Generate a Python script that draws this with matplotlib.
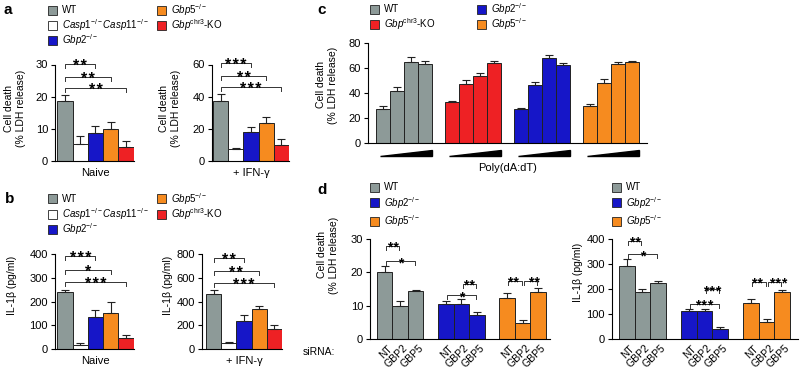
import numpy as np
import matplotlib.pyplot as plt
from matplotlib.patches import Rectangle
import matplotlib.transforms as mtransforms

plt.rcParams['font.family'] = ['Liberation Sans', 'DejaVu Sans']
plt.rcParams['mathtext.fontset'] = 'custom'
plt.rcParams['mathtext.rm'] = 'Liberation Sans'
plt.rcParams['mathtext.it'] = 'Liberation Sans:italic'
plt.rcParams['mathtext.bf'] = 'Liberation Sans:bold'

# colours
GRAY = '#8d9a98'
WHITE = '#ffffff'
BLUE = '#1616c8'
ORANGE = '#f68b1f'
RED = '#ee2124'
EDGE = '#222222'

# legend labels
lbl_wt = 'WT'
lbl_casp = r'$\mathit{Casp1}^{-/-}\mathit{Casp11}^{-/-}$'
lbl_gbp2 = r'$\mathit{Gbp2}^{-/-}$'
lbl_gbp5 = r'$\mathit{Gbp5}^{-/-}$'
lbl_chr3 = r'$\mathit{Gbp}^{\mathrm{chr3}}$-KO'

# a: cell death, 5 genotypes (WT, Casp1/11, Gbp2, Gbp5, Gbpchr3)
a_naive = [18.8, 5.3, 8.7, 10.1, 4.4]
a_naive_err = [1.8, 2.6, 2.3, 2.1, 1.8]
a_ifn = [37.5, 7.5, 17.8, 23.6, 10.2]
a_ifn_err = [4.2, 0.8, 3.2, 3.5, 3.2]
a_naive_sig = [(0, 2, 30.3, '**'), (0, 3, 26.2, '**'), (0, 4, 22.8, '**')]
a_ifn_sig = [(0, 2, 61, '***'), (0, 3, 53, '**'), (0, 4, 46, '***')]

# b: IL-1beta
b_naive = [242, 15, 135, 150, 47]
b_naive_err = [5, 10, 30, 50, 10]
b_ifn = [462, 52, 235, 335, 165]
b_ifn_err = [35, 8, 50, 30, 40]
b_naive_sig = [(0, 2, 392, '***'), (0, 3, 333, '*'), (0, 4, 282, '***')]
b_ifn_sig = [(0, 2, 766, '**'), (0, 3, 657, '**'), (0, 4, 556, '***')]

# c: poly(dA:dT) dose response
c_wt = [27, 42, 65, 63.5]
c_wt_err = [2.5, 3, 3.5, 2.5]
c_chr3 = [32.5, 47.5, 54, 64]
c_chr3_err = [1.5, 3, 2, 1.5]
c_gbp2 = [27.2, 46.4, 68.3, 62.4]
c_gbp2_err = [1, 2.5, 2, 2]
c_gbp5 = [29.8, 48, 63.5, 65]
c_gbp5_err = [1.5, 3.5, 1.5, 0.8]

# d: siRNA
d_sirna = ['NT', 'GBP2', 'GBP5']
d_ldh_wt = [20, 10, 14.4]
d_ldh_wt_err = [1.9, 1.3, 0.3]
d_ldh_gbp2 = [10.5, 10.5, 7.2]
d_ldh_gbp2_err = [0.8, 1.6, 0.8]
d_ldh_gbp5 = [12.3, 4.7, 14.1]
d_ldh_gbp5_err = [1.5, 1.0, 1.1]
d_ldh_sig = [(0, 0, 1, 28, '**'), (0, 0, 2, 23.5, '*'),
             (1, 1, 2, 16.5, '**'), (1, 0, 2, 13.1, '*'),
             (2, 0, 1, 17.4, '**'), (2, 1, 2, 17.4, '**')]
d_il_wt = [293, 187, 223]
d_il_wt_err = [26, 14, 9]
d_il_gbp2 = [112, 112, 40]
d_il_gbp2_err = [8, 7, 9]
d_il_gbp5 = [145, 67, 188]
d_il_gbp5_err = [16, 12, 8]
d_il_sig = [(0, 0, 1, 393, '**'), (0, 0, 2, 339, '*'),
            (1, 1, 2, 199, '***'), (1, 0, 2, 140, '***'),
            (2, 0, 1, 229, '**'), (2, 1, 2, 229, '***')]

W, H = 800, 372
fig = plt.figure(figsize=(W / 100, H / 100), dpi=100)


def px_axes(left, right, top, bottom):
    return fig.add_axes([left / W, 1 - bottom / H, (right - left) / W, (bottom - top) / H])


def style(ax, ymax, step, xlim):
    for s in ['top', 'right']:
        ax.spines[s].set_visible(False)
    for s in ['left', 'bottom']:
        ax.spines[s].set_linewidth(0.8)
    ax.set_ylim(0, ymax)
    ax.set_yticks(np.arange(0, ymax + step / 2, step))
    ax.set_xlim(*xlim)
    ax.tick_params(axis='y', labelsize=8, length=3, width=0.8, pad=2)
    ax.tick_params(axis='x', length=0)
    ax.set_xticks([])


def bars(ax, xs, vals, errs, colors):
    ax.bar(xs, vals, width=1.0, color=colors, edgecolor=EDGE, linewidth=0.7, zorder=2)
    ax.errorbar(xs, vals, yerr=[np.zeros(len(vals)), errs], fmt='none',
                ecolor=EDGE, elinewidth=0.8, capsize=3, capthick=0.8, zorder=3)


def bracket(ax, x1, x2, y, stars, drop, size=12, shrink=0.0, dx=0.0):
    x1, x2 = x1 + shrink, x2 - shrink
    ax.plot([x1, x1, x2, x2], [y - drop, y, y, y - drop], color='#333333',
            lw=0.7, clip_on=False)
    ax.annotate('\u200a'.join(stars), xy=((x1 + x2) / 2, y), xytext=(dx, -size * 0.46),
                textcoords='offset points', ha='center', va='baseline',
                fontsize=size, fontweight='bold', annotation_clip=False)


def legend_item(x, y, color, label):
    fig.add_artist(Rectangle((x / W, 1 - (y + 4.5) / H), 9 / W, 9 / H,
                             transform=fig.transFigure, fc=color, ec=EDGE, lw=0.6))
    fig.text((x + 14) / W, 1 - y / H, label, va='center', ha='left', fontsize=7)


def ftext(x, y, s, **kw):
    fig.text(x / W, 1 - y / H, s, **kw)


five_colors = [GRAY, WHITE, BLUE, ORANGE, RED]
xs5 = np.arange(5)

# ---- panel a ----
ftext(4, 10, 'a', fontsize=11, fontweight='bold', va='center')
legend_item(48, 10, GRAY, lbl_wt)
legend_item(48, 25, WHITE, lbl_casp)
legend_item(48, 40, BLUE, lbl_gbp2)
legend_item(157, 10, ORANGE, lbl_gbp5)
legend_item(157, 25, RED, lbl_chr3)

panels_5 = [
    (55, 133.5, 64.5, 161, a_naive, a_naive_err, a_naive_sig, 30, 10, -0.66, 'Naive'),
    (212, 289, 64.5, 161, a_ifn, a_ifn_err, a_ifn_sig, 60, 20, -0.57, '+ IFN-γ'),
    (55, 133.5, 254, 349, b_naive, b_naive_err, b_naive_sig, 400, 100, -0.66, 'Naive'),
    (202, 282, 254, 349, b_ifn, b_ifn_err, b_ifn_sig, 800, 200, -0.76, '+ IFN-γ'),
]
for left, right, top, bottom, vals, errs, sig, ymax, step, x0, name in panels_5:
    ax = px_axes(left, right, top, bottom)
    style(ax, ymax, step, (x0, 4.5))
    bars(ax, xs5, vals, errs, five_colors)
    for i, j, y, s in sig:
        bracket(ax, i, j, y, s, ymax * 0.045, size=11.5)
    ax.text(2, -0.07, name, transform=mtransforms.blended_transform_factory(ax.transData, ax.transAxes),
            ha='center', va='top', fontsize=8)

ftext(15, 108, 'Cell death\n(% LDH release)', rotation=90, ha='center', va='center', fontsize=7.5)
ftext(170, 108, 'Cell death\n(% LDH release)', rotation=90, ha='center', va='center', fontsize=7.5)

# ---- panel b ----
ftext(5, 199, 'b', fontsize=11, fontweight='bold', va='center')
legend_item(48, 199, GRAY, lbl_wt)
legend_item(48, 214.5, WHITE, lbl_casp)
legend_item(48, 229, BLUE, lbl_gbp2)
legend_item(157, 199, ORANGE, lbl_gbp5)
legend_item(157, 214.5, RED, lbl_chr3)
ftext(12, 285, 'IL-1β (pg/ml)', rotation=90, ha='center', va='center', fontsize=7.5)
ftext(168, 285, 'IL-1β (pg/ml)', rotation=90, ha='center', va='center', fontsize=7.5)

# ---- panel c ----
ftext(317, 10, 'c', fontsize=11, fontweight='bold', va='center')
legend_item(370, 9, GRAY, lbl_wt)
legend_item(370, 24, RED, lbl_chr3)
legend_item(477, 9, BLUE, lbl_gbp2)
legend_item(477, 24, ORANGE, lbl_gbp5)

axc = px_axes(368, 647, 43, 143)
style(axc, 80, 20, (-1.07, 18.86))
c_step = 4.93
c_groups = [(c_wt, c_wt_err, GRAY), (c_chr3, c_chr3_err, RED),
            (c_gbp2, c_gbp2_err, BLUE), (c_gbp5, c_gbp5_err, ORANGE)]
trc = mtransforms.blended_transform_factory(axc.transData, axc.transAxes)
for g, (vals, errs, col) in enumerate(c_groups):
    xs = g * c_step + np.arange(len(vals))
    bars(axc, xs, vals, errs, col)
    xl, xr = xs[0] - 0.2, xs[-1] + 0.5
    axc.fill([xl, xr, xr], [-0.13, -0.13, -0.07], color='black', transform=trc, clip_on=False)
ftext(327, 85, 'Cell death\n(% LDH release)', rotation=90, ha='center', va='center', fontsize=7.5)
ftext(508, 168, 'Poly(dA:dT)', ha='center', va='center', fontsize=8)

# ---- panel d ----
ftext(317, 190, 'd', fontsize=11, fontweight='bold', va='center')
for lx in (370, 612):
    legend_item(lx, 187.5, GRAY, lbl_wt)
    legend_item(lx, 203, BLUE, lbl_gbp2)
    legend_item(lx, 221, ORANGE, lbl_gbp5)

d_panels = [
    (370, 550, [(d_ldh_wt, d_ldh_wt_err), (d_ldh_gbp2, d_ldh_gbp2_err), (d_ldh_gbp5, d_ldh_gbp5_err)],
     d_ldh_sig, 30, 10, (-0.95, 10.66), 3.95),
    (612, 798, [(d_il_wt, d_il_wt_err), (d_il_gbp2, d_il_gbp2_err), (d_il_gbp5, d_il_gbp5_err)],
     d_il_sig, 400, 100, (-0.95, 10.97), 3.98),
]
for left, right, groups, sig, ymax, step, xlim, gstep in d_panels:
    ax = px_axes(left, right, 239, 339)
    style(ax, ymax, step, xlim)
    ticks, labels = [], []
    for g, ((vals, errs), col) in enumerate(zip(groups, [GRAY, BLUE, ORANGE])):
        xs = g * gstep + np.arange(len(vals))
        bars(ax, xs, vals, errs, col)
        ticks += list(xs + 0.15)
        labels += d_sirna
    ax.set_xticks(ticks)
    ax.set_xticklabels(labels, rotation=45, ha='right', rotation_mode='anchor', fontsize=7.5)
    ax.tick_params(axis='x', pad=3)
    for g, i, j, y, s in sig:
        # side-by-side brackets at the same height: push their stars apart
        shared = sum(1 for g2, _, _, y2, _ in sig if g2 == g and y2 == y) > 1
        dx = 0.0
        if shared:
            dx = -1.5 if i == 0 else 2.5
        bracket(ax, g * gstep + i, g * gstep + j, y, s, ymax * 0.04, size=10, shrink=0.07, dx=dx)

ftext(328, 255, 'Cell death\n(% LDH release)', rotation=90, ha='center', va='center', fontsize=7.5)
ftext(578, 272, 'IL-1β (pg/ml)', rotation=90, ha='center', va='center', fontsize=7.5)
ftext(303, 352, 'siRNA:', ha='left', va='center', fontsize=7.5)

fig.savefig('out.png', dpi=100)
